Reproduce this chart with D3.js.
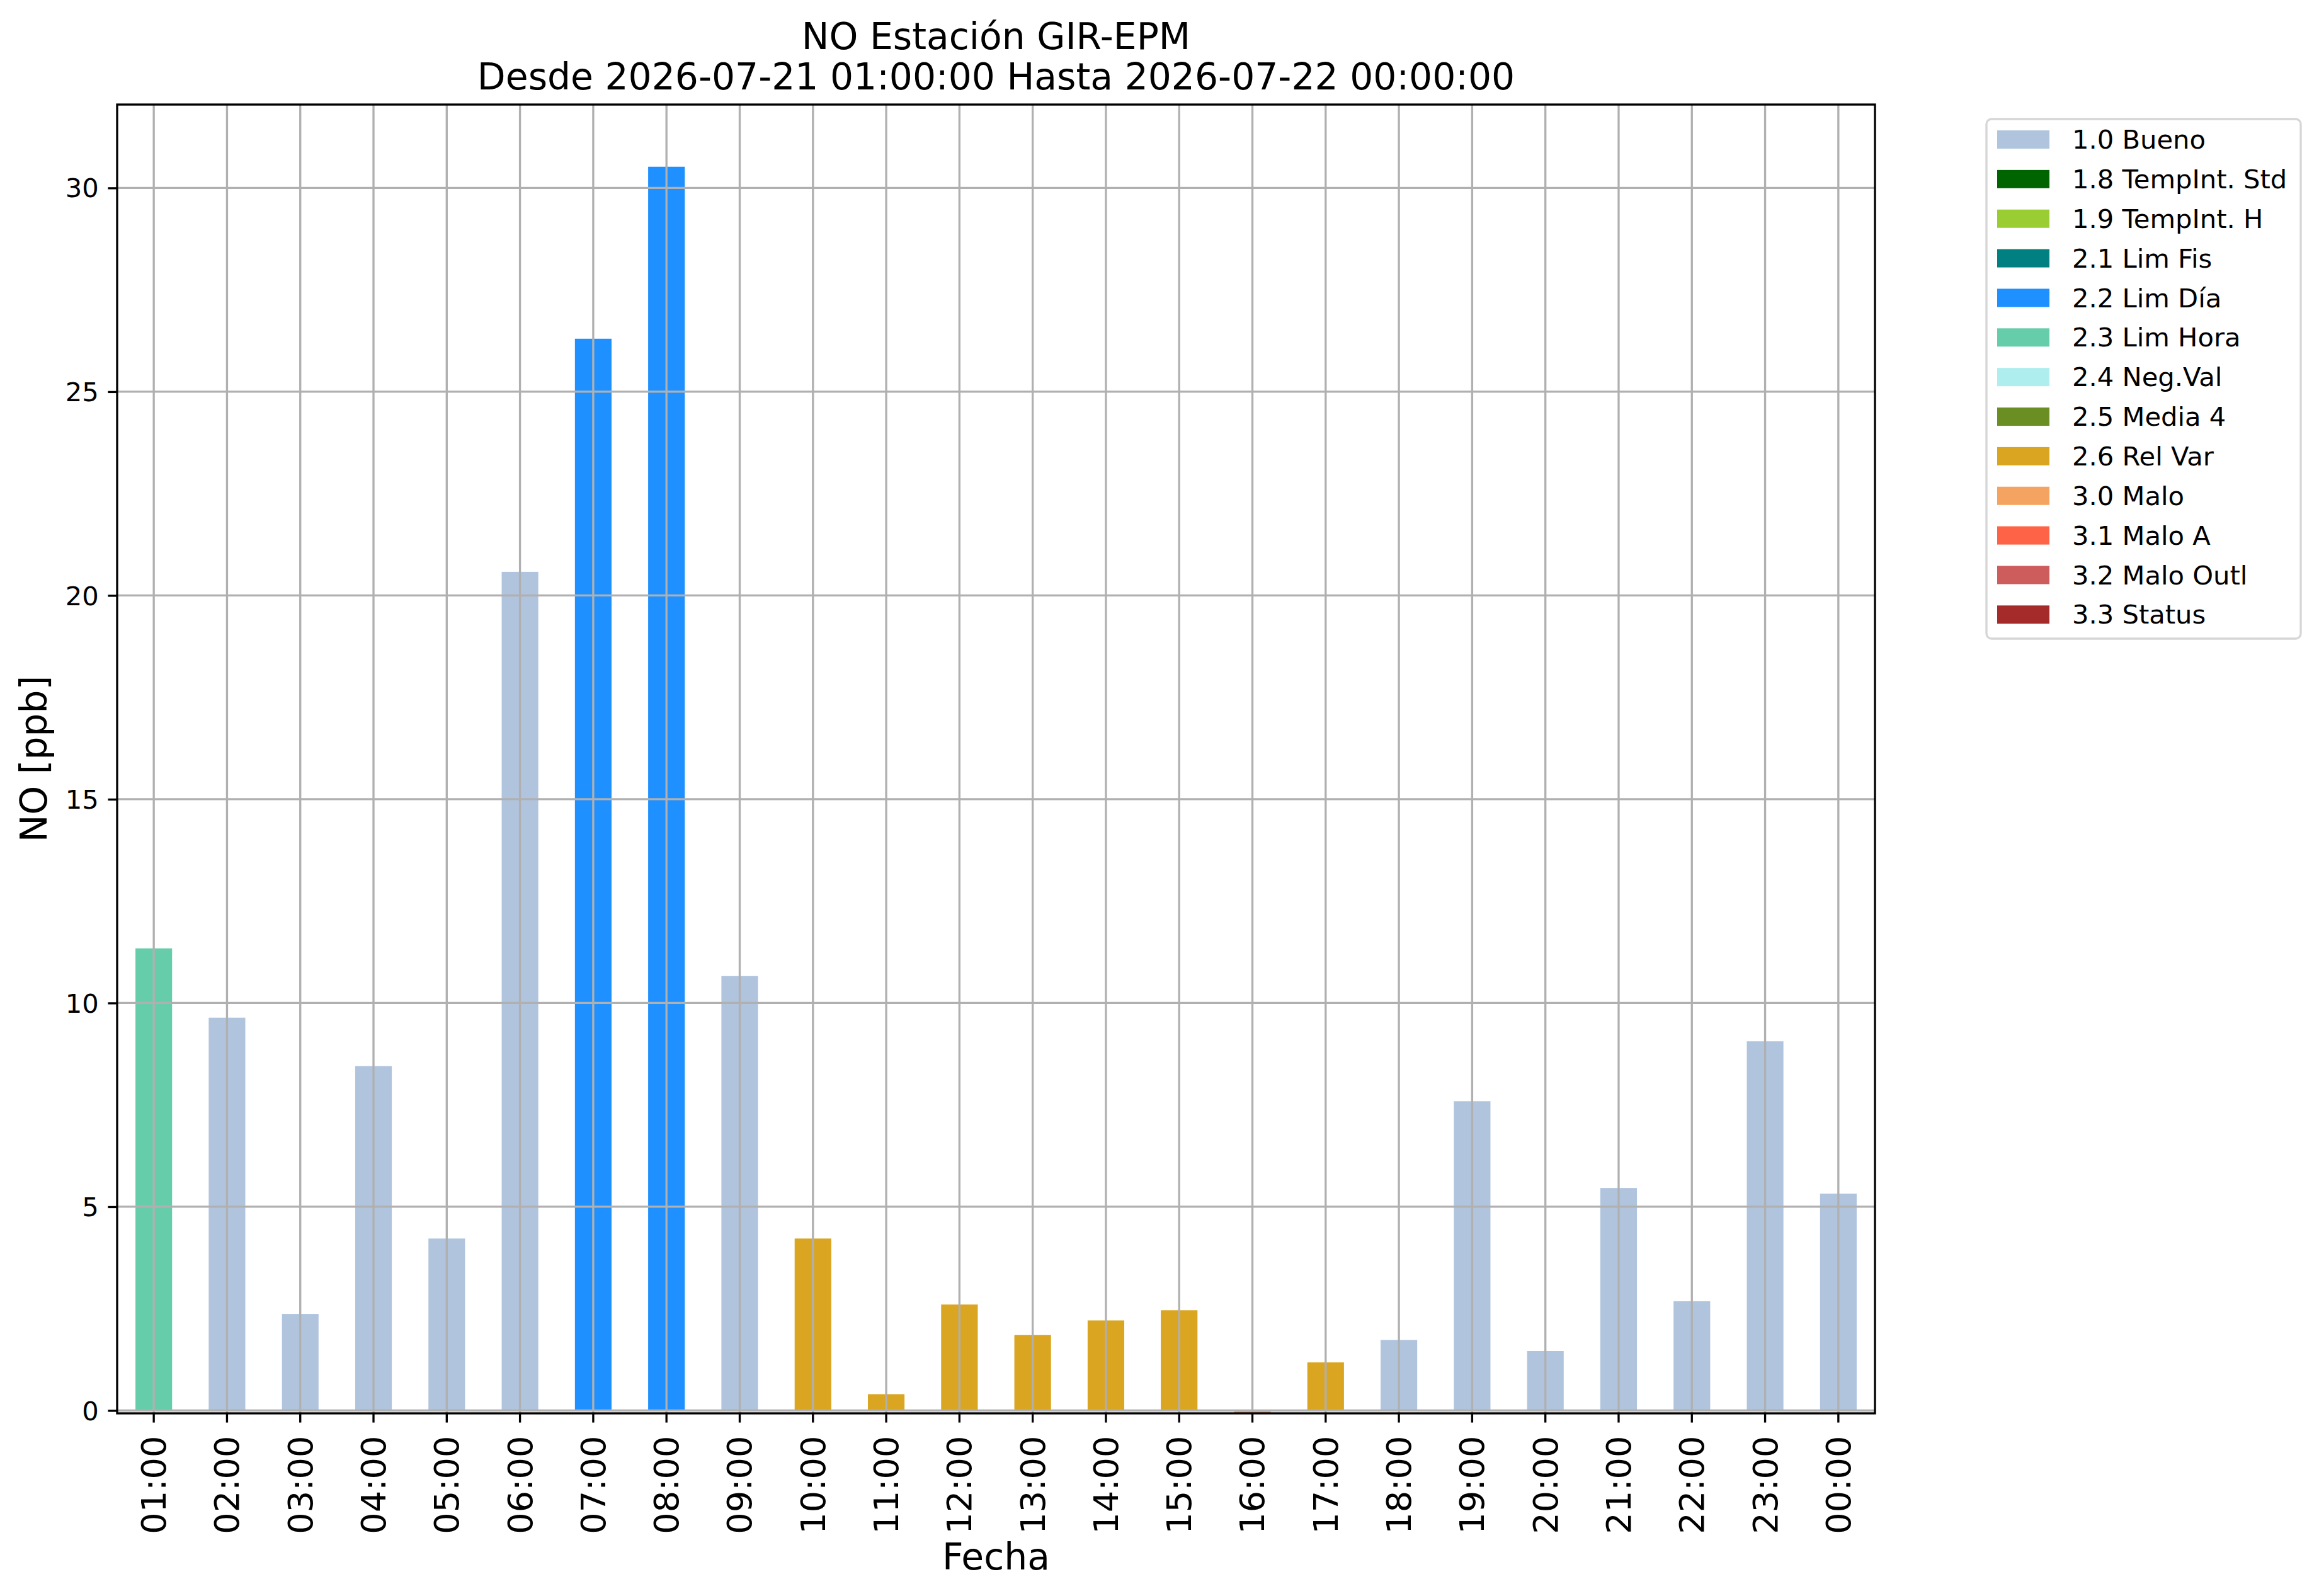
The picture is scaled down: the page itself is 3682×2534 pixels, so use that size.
<!DOCTYPE html>
<html>
<head>
<meta charset="utf-8">
<script src="https://cdn.jsdelivr.net/npm/d3@7"></script>
<style>
  body { margin: 0; background: #fff; }
  text { font-family: "DejaVu Sans", sans-serif; fill: #000; }
</style>
</head>
<body>
<div id="chart"></div>
<script>
// Data
const hours = ["01:00", "02:00", "03:00", "04:00", "05:00", "06:00", "07:00", "08:00",
  "09:00", "10:00", "11:00", "12:00", "13:00", "14:00", "15:00", "16:00",
  "17:00", "18:00", "19:00", "20:00", "21:00", "22:00", "23:00", "00:00"];
const values = [11.34, 9.64, 2.37, 8.45, 4.22, 20.58, 26.30, 30.52,
  10.66, 4.22, 0.40, 2.60, 1.85, 2.21, 2.46, -0.07,
  1.18, 1.73, 7.59, 1.46, 5.46, 2.68, 9.06, 5.32];
const flags = ["2.3", "1.0", "1.0", "1.0", "1.0", "1.0", "2.2", "2.2",
  "1.0", "2.6", "2.6", "2.6", "2.6", "2.6", "2.6", "3.0",
  "2.6", "1.0", "1.0", "1.0", "1.0", "1.0", "1.0", "1.0"];
const flagCodes = ["1.0", "1.8", "1.9", "2.1", "2.2", "2.3", "2.4", "2.5", "2.6", "3.0", "3.1", "3.2", "3.3"];
const flagNames = ["1.0 Bueno", "1.8 TempInt. Std", "1.9 TempInt. H", "2.1 Lim Fis", "2.2 Lim Día",
  "2.3 Lim Hora", "2.4 Neg.Val", "2.5 Media 4", "2.6 Rel Var", "3.0 Malo", "3.1 Malo A",
  "3.2 Malo Outl", "3.3 Status"];
const flagColors = ["lightsteelblue", "darkgreen", "yellowgreen", "teal", "dodgerblue",
  "mediumaquamarine", "paleturquoise", "olivedrab", "goldenrod", "sandybrown", "tomato",
  "indianred", "brown"];
const yTicks = [0, 5, 10, 15, 20, 25, 30];

// Dimensions
const width = 3682;
const height = 2534;
const plotLeft = 186, plotRight = 2977, plotTop = 166, plotBottom = 2244;
const pt = 300 / 72;

const svg = d3.select("#chart")
  .append("svg")
  .attr("width", width)
  .attr("height", height);

svg.append("rect").attr("width", width).attr("height", height).attr("fill", "#fff");

const color = d3.scaleOrdinal().domain(flagCodes).range(flagColors);

const x = d3.scaleBand()
  .domain(hours)
  .range([plotLeft, plotRight])
  .paddingInner(0.5)
  .paddingOuter(0.25);

const yMin = d3.min(values);
const yMax = d3.max(values) * 1.05;
const y = d3.scaleLinear().domain([yMin, yMax]).range([plotBottom, plotTop]);

const data = hours.map((h, i) => ({ hour: h, value: values[i], flag: flags[i] }));

// Bars
svg.append("g")
  .selectAll("rect")
  .data(data)
  .join("rect")
  .attr("x", d => x(d.hour))
  .attr("width", x.bandwidth())
  .attr("y", d => Math.min(y(0), y(d.value)))
  .attr("height", d => Math.abs(y(0) - y(d.value)))
  .attr("fill", d => color(d.flag));

// Grid (drawn above bars)
const grid = svg.append("g").attr("stroke", "#b0b0b0").attr("stroke-width", 0.8 * pt);
grid.selectAll("line.v")
  .data(hours)
  .join("line")
  .attr("class", "v")
  .attr("x1", d => x(d) + x.bandwidth() / 2)
  .attr("x2", d => x(d) + x.bandwidth() / 2)
  .attr("y1", plotTop)
  .attr("y2", plotBottom);
grid.selectAll("line.h")
  .data(yTicks)
  .join("line")
  .attr("class", "h")
  .attr("x1", plotLeft)
  .attr("x2", plotRight)
  .attr("y1", d => y(d))
  .attr("y2", d => y(d));

// Axes
const xAxis = svg.append("g")
  .attr("transform", `translate(0,${plotBottom})`)
  .call(d3.axisBottom(x).tickSize(3.5 * pt).tickPadding(0).tickSizeOuter(0));
xAxis.select(".domain").remove();
xAxis.selectAll(".tick line").attr("stroke", "#000").attr("stroke-width", 0.8 * pt);
xAxis.selectAll(".tick text")
  .attr("font-size", 13 * pt)
  .attr("text-anchor", "end")
  .attr("y", null)
  .attr("transform", `translate(0,${3.5 * pt + 21}) rotate(-90)`)
  .attr("dy", "0.35em");

const yAxis = svg.append("g")
  .attr("transform", `translate(${plotLeft},0)`)
  .call(d3.axisLeft(y).tickValues(yTicks).tickSize(3.5 * pt).tickPadding(3.5 * pt).tickSizeOuter(0));
yAxis.select(".domain").remove();
yAxis.selectAll(".tick line").attr("stroke", "#000").attr("stroke-width", 0.8 * pt);
yAxis.selectAll(".tick text").attr("font-size", 10 * pt).attr("dy", "0.35em");

// Frame
svg.append("rect")
  .attr("x", plotLeft).attr("y", plotTop)
  .attr("width", plotRight - plotLeft).attr("height", plotBottom - plotTop)
  .attr("fill", "none").attr("stroke", "#000").attr("stroke-width", 0.8 * pt);

// Titles and labels
const cx = (plotLeft + plotRight) / 2;
svg.append("text").attr("x", cx).attr("y", 78).attr("text-anchor", "middle")
  .attr("font-size", 14 * pt).text("NO Estación GIR-EPM");
svg.append("text").attr("x", cx).attr("y", 142).attr("text-anchor", "middle")
  .attr("font-size", 14 * pt).text("Desde 2026-07-21 01:00:00 Hasta 2026-07-22 00:00:00");
svg.append("text").attr("x", cx).attr("y", 2492).attr("text-anchor", "middle")
  .attr("font-size", 14 * pt).text("Fecha");
svg.append("text")
  .attr("transform", `translate(74,${(plotTop + plotBottom) / 2}) rotate(-90)`)
  .attr("text-anchor", "middle")
  .attr("font-size", 14 * pt).text("NO [ppb]");

// Legend
const legend = svg.append("g").attr("transform", "translate(3154,189)");
legend.append("rect")
  .attr("width", 499).attr("height", 825)
  .attr("rx", 8).attr("ry", 8)
  .attr("fill", "#fff").attr("fill-opacity", 0.8)
  .attr("stroke", "#d6d6d6").attr("stroke-width", 0.8 * pt);
const rowStep = 62.86;
const items = legend.selectAll("g.item")
  .data(flagNames)
  .join("g")
  .attr("class", "item")
  .attr("transform", (d, i) => `translate(0,${18 + i * rowStep})`);
items.append("rect")
  .attr("x", 17).attr("width", 83).attr("height", 29)
  .attr("fill", (d, i) => flagColors[i]);
items.append("text")
  .attr("x", 136).attr("y", 14.5).attr("dy", "0.35em")
  .attr("font-size", 10 * pt)
  .text(d => d);
</script>
</body>
</html>
